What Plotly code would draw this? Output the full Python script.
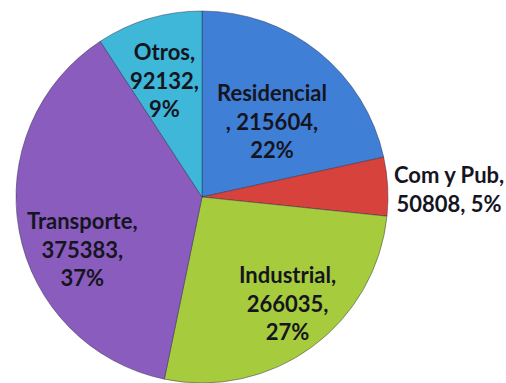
import plotly.graph_objects as go

# Consumo por sector
sectores = ["Residencial", "Com y Pub", "Industrial", "Transporte", "Otros"]
consumo = [215604, 50808, 266035, 375383, 92132]
porcentajes = ["22%", "5%", "27%", "37%", "9%"]
colores = ["#3f7fd6", "#d8423d", "#a6cb3c", "#8a5cbe", "#3eb7d8"]

fig = go.Figure(
    go.Pie(
        labels=sectores,
        values=consumo,
        sort=False,
        direction="clockwise",
        rotation=0,
        marker=dict(colors=colores, line=dict(color="rgba(40,40,70,0.45)", width=1)),
        textinfo="none",
        hoverinfo="label+value+percent",
        showlegend=False,
        domain=dict(x=[0, 404 / 506], y=[0, 1]),
    )
)

# label blocks: (text lines, x, y) in pixels
line_breaks = {
    "Residencial": ["{s}", ", {v},", "{p}"],
    "Com y Pub": ["{s},", "{v}, {p}"],
    "Industrial": ["{s},", "{v},", "{p}"],
    "Transporte": ["{s},", "{v},", "{p}"],
    "Otros": ["{s},", "{v},", "{p}"],
}
label_pos = {
    "Residencial": (272, 113),
    "Com y Pub": (449, 183),
    "Industrial": (287, 301),
    "Transporte": (82, 245),
    "Otros": (164, 71),
}

W, H = 506, 383
for s, v, p in zip(sectores, consumo, porcentajes):
    text = "<br>".join(t.format(s=s, v=v, p=p) for t in line_breaks[s])
    x, y = label_pos[s]
    fig.add_annotation(
        x=x / W, y=1 - y / H, xref="paper", yref="paper",
        text=text, showarrow=False, align="center",
        xanchor="center", yanchor="middle",
        font=dict(family="Lato", size=22, color="#15151f", weight="bold"),
    )

fig.update_layout(
    width=W, height=H,
    margin=dict(l=0, r=0, t=11, b=0),
    paper_bgcolor="white",
    plot_bgcolor="white",
)

fig.write_html("out.html")
